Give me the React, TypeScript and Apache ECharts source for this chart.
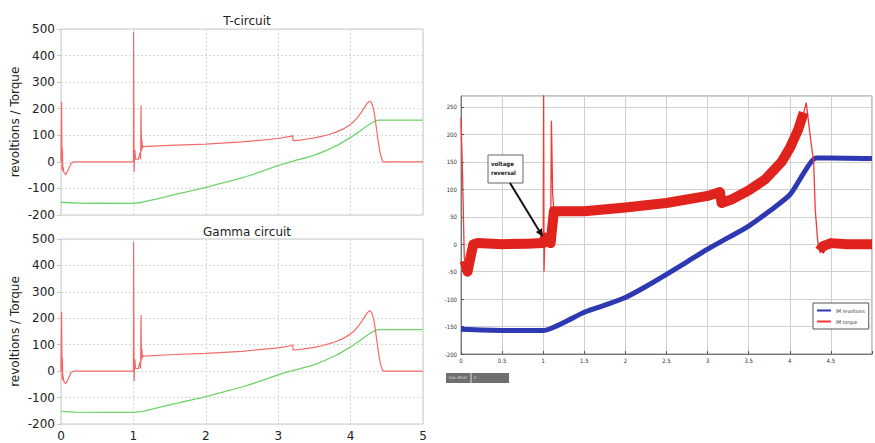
import React, { useEffect, useRef } from "react";
import * as echarts from "echarts";

// ---- Simulation (left panels): torque and revolutions vs time [s]
const simTorque: [number, number][] = [
  [0, 0], [0.008, 225], [0.015, -30], [0.02, 50], [0.025, -35], [0.03, -20], [0.04, -40],
  [0.065, -48], [0.1, -30], [0.14, -5], [0.18, 0], [1.0, 0], [1.003, 490], [1.01, -38],
  [1.02, 45], [1.03, 10], [1.07, 10], [1.09, 35], [1.1, 10], [1.105, 212], [1.112, 40],
  [1.118, 85], [1.125, 50], [1.13, 60], [1.14, 57], [1.5, 62], [2.0, 67], [2.5, 75],
  [3.0, 88], [3.19, 97], [3.2, 100], [3.205, 80], [3.3, 82], [3.4, 86], [3.5, 90],
  [3.6, 96], [3.7, 103], [3.8, 112], [3.9, 124], [4.0, 141], [4.05, 153], [4.1, 168],
  [4.15, 187], [4.2, 208], [4.23, 221], [4.26, 228], [4.28, 226], [4.3, 215], [4.32, 195],
  [4.34, 160], [4.36, 120], [4.38, 80], [4.4, 45], [4.42, 20], [4.44, 5], [4.46, -1],
  [4.5, 0], [5.0, 0],
];
const simSpeed: [number, number][] = [
  [0, -152], [0.2, -155], [1.0, -156], [1.1, -153], [1.3, -141], [1.5, -128], [1.75, -112],
  [2.0, -96], [2.25, -78], [2.5, -60], [2.75, -38], [3.0, -14], [3.2, 2], [3.5, 25],
  [3.8, 60], [4.0, 92], [4.1, 110], [4.2, 130], [4.3, 148], [4.35, 155], [4.4, 157],
  [5.0, 157],
];

// ---- Measurement (right panel)
const expTorqueThin: [number, number][] = [
  [0, 230], [0.02, 120], [0.04, -25], [0.08, -52], [0.1, -35], [0.15, 0], [1.0, 2],
  [1.005, 300], [1.01, -50], [1.02, 15], [1.06, 5], [1.09, 0], [1.1, 225], [1.115, 90],
  [1.13, 62], [1.5, 60], [2.0, 67], [2.5, 75], [3.0, 88], [3.15, 95], [3.17, 75],
  [3.3, 82], [3.5, 98], [3.7, 118], [3.9, 150], [4.0, 175], [4.1, 208], [4.17, 240],
  [4.2, 258], [4.25, 195], [4.29, 150], [4.31, 62], [4.34, 5], [4.37, -16], [4.4, -5],
  [4.5, 0], [5.0, 0],
];
const expTorqueBandA: [number, number][] = [
  [0.045, -30], [0.08, -50], [0.1, -35], [0.15, 0], [0.2, 2], [0.5, 0], [0.8, 1], [1.0, 2],
  [1.02, 12], [1.06, 5], [1.09, 2], [1.13, 60], [1.5, 60], [2.0, 67], [2.5, 75], [3.0, 88],
  [3.15, 95], [3.17, 75], [3.3, 82], [3.5, 98], [3.7, 118], [3.9, 150], [4.0, 175],
  [4.1, 208], [4.17, 240],
];
const expTorqueBandB: [number, number][] = [
  [4.36, -12], [4.4, -4], [4.5, 2], [4.7, 0], [5.0, 0],
];
const expSpeed: [number, number][] = [
  [0, -155], [0.5, -157], [1.0, -157], [1.1, -153], [1.3, -139], [1.5, -124], [1.75, -111],
  [2.0, -97], [2.25, -77], [2.5, -55], [2.75, -32], [3.0, -9], [3.25, 12], [3.5, 33],
  [3.75, 60], [4.0, 90], [4.15, 125], [4.25, 148], [4.32, 157], [4.5, 157], [5.0, 156],
];

const leftTicks = [-200, -100, 0, 100, 200, 300, 400, 500];
const rightXTicks = [0, 0.5, 1, 1.5, 2, 2.5, 3, 3.5, 4, 4.5];
const rightYTicks = [-200, -150, -100, -50, 0, 50, 100, 150, 200, 250];
const panelTitles = ["T-circuit", "Gamma circuit"];
const yName = "revoltions / Torque";
const legendNames = ["IM revoltions", "IM torque"];

const FONT = "DejaVu Sans";
const TINY = "DejaVu Sans Condensed";

export default function App() {
  const ref = useRef<HTMLDivElement>(null);
  useEffect(() => {
    if (!ref.current) return;
    const chart = echarts.init(ref.current, undefined, { renderer: "svg" });

    const leftX = (gi: number, showLabel: boolean) => ({
      type: "value", gridIndex: gi, min: 0, max: 5, interval: 1,
      axisLine: { show: false }, axisTick: { show: false },
      axisLabel: { show: showLabel, fontFamily: FONT, fontSize: 12, color: "#222", margin: 6 },
      splitLine: { show: true, lineStyle: { color: "#d8d8d8", type: [2, 2] } },
    });
    const leftY = (gi: number) => ({
      type: "value", gridIndex: gi, min: leftTicks[0], max: leftTicks[leftTicks.length - 1], interval: 100,
      name: yName, nameLocation: "middle", nameGap: 40, nameRotate: 90,
      nameTextStyle: { fontFamily: FONT, fontSize: 12, color: "#222" },
      axisLine: { show: false },
      axisTick: { show: true, length: 4, lineStyle: { color: "#c8c8c8" } },
      axisLabel: { fontFamily: FONT, fontSize: 12, color: "#222", margin: 6 },
      splitLine: { show: true, lineStyle: { color: "#d8d8d8", type: [2, 2] } },
    });

    const simSeries = (gi: number) => [
      { type: "line", xAxisIndex: gi, yAxisIndex: gi, data: simSpeed, showSymbol: false, symbol: "none",
        smooth: 0.25,
        lineStyle: { color: "#6fd46a", width: 1.3 }, itemStyle: { color: "#6fd46a" } },
      { type: "line", xAxisIndex: gi, yAxisIndex: gi, data: simTorque, showSymbol: false, symbol: "none",
        lineStyle: { color: "#f26b6b", width: 1.2 }, itemStyle: { color: "#f26b6b" } },
    ];

    const ax = 510, ay = 183, tx = 543, ty = 237;
    const dx = tx - ax, dy = ty - ay, L = Math.hypot(dx, dy);
    const ux = dx / L, uy = dy / L;
    const bx = tx - 8 * ux, by = ty - 8 * uy;

    chart.setOption({
      animation: false,
      backgroundColor: "#ffffff",
      title: [
        { text: panelTitles[0], left: 242, top: 10, textAlign: "center",
          textStyle: { fontFamily: FONT, fontSize: 12, fontWeight: "normal", color: "#222" } },
        { text: panelTitles[1], left: 242, top: 221, textAlign: "center",
          textStyle: { fontFamily: FONT, fontSize: 12, fontWeight: "normal", color: "#222" } },
      ],
      legend: {
        data: legendNames, orient: "vertical", left: 813, top: 303,
        backgroundColor: "#fff", borderColor: "#555", borderWidth: 1, padding: [4, 4],
        itemWidth: 14, itemHeight: 2, itemGap: 4, icon: "rect",
        textStyle: { fontFamily: TINY, fontSize: 5, color: "#333", lineHeight: 7 },
      },
      grid: [
        { left: 61, top: 29, width: 362, height: 186, show: true, borderColor: "#c8c8c8", borderWidth: 1, backgroundColor: "#fff" },
        { left: 61, top: 239, width: 362, height: 185, show: true, borderColor: "#c8c8c8", borderWidth: 1, backgroundColor: "#fff" },
        { left: 461, top: 96, width: 417, height: 258, show: true, borderColor: "#8a8a8a", borderWidth: 1 },
      ],
      xAxis: [
        leftX(0, false),
        leftX(1, true),
        {
          type: "value", gridIndex: 2, min: 0, max: 5, interval: 0.5,
          axisLine: { show: true, onZero: false, lineStyle: { color: "#777" } },
          axisTick: { show: true, inside: true, length: 3, lineStyle: { color: "#555" } },
          axisLabel: { fontFamily: TINY, fontSize: 6, color: "#333", margin: 3,
            formatter: (v: number) => (rightXTicks.includes(v) ? String(v) : "") },
          splitLine: { show: true, lineStyle: { color: "#d0d0d0", width: 1 } },
        },
      ],
      yAxis: [
        leftY(0),
        leftY(1),
        {
          type: "value", gridIndex: 2, min: -200, max: 270, interval: 50,
          axisLine: { show: true, lineStyle: { color: "#777" } },
          axisTick: { show: true, inside: true, length: 3, lineStyle: { color: "#555" } },
          axisLabel: { fontFamily: TINY, fontSize: 6, color: "#333", margin: 4, showMaxLabel: false,
            formatter: (v: number) => (rightYTicks.includes(v) ? String(v) : "") },
          splitLine: { show: true, lineStyle: { color: "#d0d0d0", width: 1 } },
        },
      ],
      series: [
        ...simSeries(0),
        ...simSeries(1),
        { name: "IM revoltions", type: "line", xAxisIndex: 2, yAxisIndex: 2, data: expSpeed, showSymbol: false, symbol: "none",
          smooth: 0.25,
          lineStyle: { color: "#2d38b2", width: 5 }, itemStyle: { color: "#2d38b2" }, z: 3 },
        { name: "IM torque", type: "line", xAxisIndex: 2, yAxisIndex: 2, data: expTorqueThin, showSymbol: false, symbol: "none",
          lineStyle: { color: "#f03c36", width: 1.3 }, itemStyle: { color: "#f03c36" }, z: 4 },
        { name: "IM torque", type: "line", xAxisIndex: 2, yAxisIndex: 2, data: expTorqueBandA, showSymbol: false, symbol: "none",
          lineStyle: { color: "#e0231c", width: 10, join: "round" }, itemStyle: { color: "#e0231c" }, z: 5 },
        { name: "IM torque", type: "line", xAxisIndex: 2, yAxisIndex: 2, data: expTorqueBandB, showSymbol: false, symbol: "none",
          lineStyle: { color: "#e0231c", width: 10, join: "round" }, itemStyle: { color: "#e0231c" }, z: 5 },
      ],
      graphic: [
        { type: "rect", shape: { x: 488, y: 155, width: 35, height: 28 },
          style: { fill: "#fff", stroke: "#666", lineWidth: 1 }, z: 100 },
        { type: "text", x: 491, y: 159, z: 101,
          style: { text: "voltage\nreversal", fontFamily: TINY, fontSize: 6, fontWeight: "bold", fill: "#222", lineHeight: 9 } },
        { type: "line", shape: { x1: ax, y1: ay, x2: bx, y2: by }, style: { stroke: "#111", lineWidth: 2 }, z: 100 },
        { type: "polygon", shape: { points: [[tx, ty], [bx - 3.5 * uy, by + 3.5 * ux], [bx + 3.5 * uy, by - 3.5 * ux]] },
          style: { fill: "#111" }, z: 100 },
        { type: "rect", shape: { x: 446, y: 373, width: 63, height: 10 }, style: { fill: "#6f6f6f" }, z: 100 },
        { type: "line", shape: { x1: 471, y1: 373, x2: 471, y2: 383 }, style: { stroke: "#ddd", lineWidth: 1 }, z: 101 },
        { type: "text", x: 449, y: 375, z: 101, style: { text: "line offset", fontFamily: TINY, fontSize: 4, fill: "#ddd" } },
        { type: "text", x: 474, y: 375, z: 101, style: { text: "0", fontFamily: TINY, fontSize: 4, fill: "#ddd" } },
      ],
    });
    return () => chart.dispose();
  }, []);
  return <div ref={ref} style={{ position: "fixed", left: 0, top: 0, width: 875, height: 443 }} />;
}
